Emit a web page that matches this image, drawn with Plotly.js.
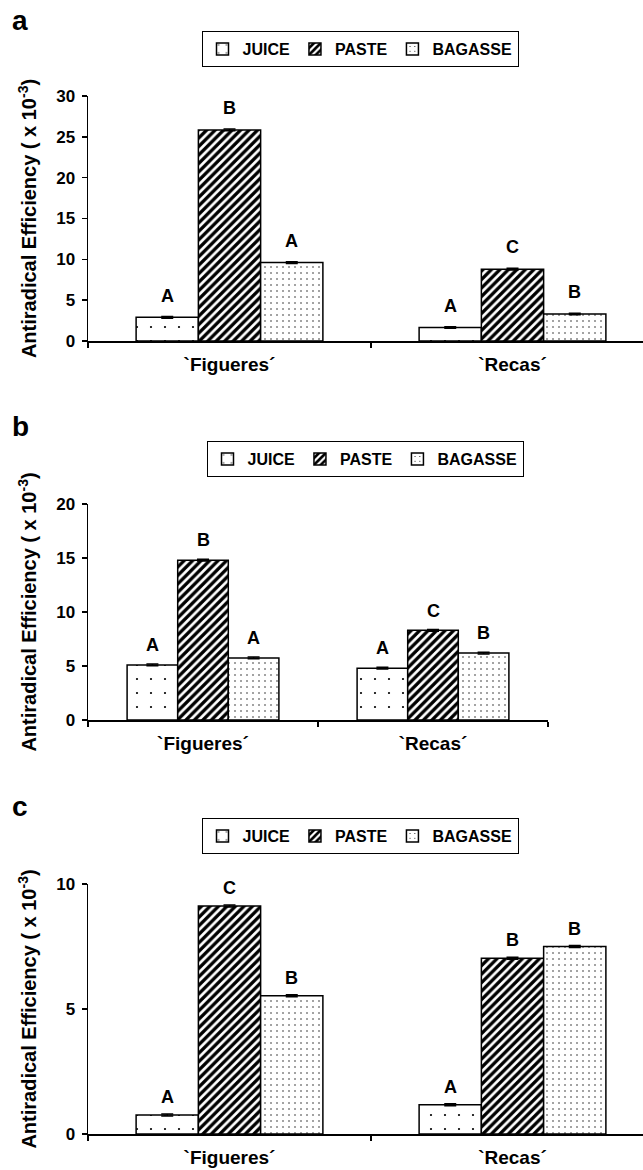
<!DOCTYPE html>
<html>
<head>
<meta charset="utf-8">
<script src="https://cdn.plot.ly/plotly-3.0.1.min.js"></script>
<style>html,body{margin:0;padding:0;background:#fff;}</style>
</head>
<body>
<div id="chart" style="width:643px;height:1170px;"></div>
<script>
// ---- data ----
const categories = ["`Figueres\u00b4", "`Recas\u00b4"];
const seriesNames = ["JUICE", "PASTE", "BAGASSE"];

const aJuice = [2.9, 1.65];
const aPaste = [25.85, 8.8];
const aBagasse = [9.6, 3.3];
const aErr = [0.1, 0.1];
const aLettersJuice = ["A", "A"];
const aLettersPaste = ["B", "C"];
const aLettersBagasse = ["A", "B"];

const bJuice = [5.1, 4.8];
const bPaste = [14.8, 8.3];
const bBagasse = [5.75, 6.2];
const bErr = [0.08, 0.08];
const bLettersJuice = ["A", "A"];
const bLettersPaste = ["B", "C"];
const bLettersBagasse = ["A", "B"];

const cJuice = [0.76, 1.17];
const cPaste = [9.12, 7.03];
const cBagasse = [5.53, 7.5];
const cErr = [0.04, 0.04];
const cLettersJuice = ["A", "A"];
const cLettersPaste = ["C", "B"];
const cLettersBagasse = ["B", "B"];

const yTickVals = [0, 5, 10, 15, 20, 25, 30];
const panelLabels = ["a", "b", "c"];

// ---- styling ----
const FONT = '"Liberation Sans", Arial, Helvetica, sans-serif';
const bargap = 0.34;
const patterns = [
  {shape: ".", size: 14, solidity: 0.02, fgcolor: "#000", bgcolor: "#fff", fillmode: "replace"},
  {shape: "/", size: 6, solidity: 0.55, fgcolor: "#000", bgcolor: "#fff", fillmode: "replace"},
  {shape: ".", size: 6, solidity: 0.04, fgcolor: "#000", bgcolor: "#fff", fillmode: "replace"}
];

const panels = [
  {vals: [aJuice, aPaste, aBagasse], err: aErr, letters: [aLettersJuice, aLettersPaste, aLettersBagasse], ax: "", legend: "legend", ymax: 30, yshift: 9},
  {vals: [bJuice, bPaste, bBagasse], err: bErr, letters: [bLettersJuice, bLettersPaste, bLettersBagasse], ax: "2", legend: "legend2", ymax: 20, yshift: 7},
  {vals: [cJuice, cPaste, cBagasse], err: cErr, letters: [cLettersJuice, cLettersPaste, cLettersBagasse], ax: "3", legend: "legend3", ymax: 10, yshift: 5}
];

const W = 643, H = 1170, ML = 88;
const PW = W - ML;
// plot area pixel boxes [top,bottom,left,right]
const boxes = [
  {top: 96, bottom: 341, right: 643, cat: 283},
  {top: 504, bottom: 720, right: 548, cat: 230},
  {top: 884, bottom: 1134, right: 643, cat: 283}
];
const legendTops = [31, 441, 818];
const legendCenters = [360, 365, 360];
const labelBaselines = [32, 438, 818];

const traces = [];
const annotations = [];
const layout = {
  width: W, height: H,
  margin: {l: ML, r: 0, t: 0, b: 0},
  paper_bgcolor: "#fff", plot_bgcolor: "#fff",
  font: {family: FONT, color: "#000", weight: "bold"},
  barmode: "group", bargap: bargap, bargroupgap: 0,
  showlegend: true,
  annotations: annotations
};

const w = (1 - bargap) / 3;

panels.forEach((p, pi) => {
  const xa = "x" + p.ax, ya = "y" + p.ax;
  const b = boxes[pi];
  p.vals.forEach((v, si) => {
    traces.push({
      type: "bar",
      name: seriesNames[si],
      x: categories,
      y: v,
      xaxis: xa, yaxis: ya,
      legend: p.legend,
      marker: {color: "#fff", line: {color: "#000", width: 1.5}, pattern: patterns[si]},
      error_y: {type: "data", array: p.err, visible: true, color: "#000", thickness: 1.5, width: 6}
    });
    v.forEach((val, ci) => {
      annotations.push({
        xref: xa, yref: ya,
        x: ci + (si - 1) * w,
        y: val + p.err[ci],
        text: p.letters[si][ci],
        showarrow: false,
        yanchor: "bottom",
        yshift: p.yshift,
        font: {family: FONT, size: 18, weight: "bold", color: "#000"}
      });
    });
  });

  const xKey = "xaxis" + p.ax, yKey = "yaxis" + p.ax;
  const xr = -0.5 + (b.right - ML) / b.cat;
  layout[xKey] = {
    type: "category",
    domain: [0, (b.right - ML) / PW],
    anchor: ya,
    range: [-0.5, xr],
    showline: true, linecolor: "#000", linewidth: 1.5,
    ticks: "outside", tickson: "boundaries", ticklen: 5, tickcolor: "#000", tickwidth: 1.5,
    ticklabelstandoff: 6,
    tickfont: {family: FONT, size: 19, weight: "bold", color: "#000"},
    showgrid: false, zeroline: false, fixedrange: true
  };
  layout[yKey] = {
    domain: [1 - b.bottom / H, 1 - b.top / H],
    anchor: xa,
    range: [0, p.ymax],
    tickvals: yTickVals.filter(t => t <= p.ymax),
    showline: true, linecolor: "#000", linewidth: 1.5,
    ticks: "outside", ticklen: 5, tickcolor: "#000", tickwidth: 1.5,
    ticklabelstandoff: 3,
    tickfont: {family: FONT, size: 17, weight: "bold", color: "#000"},
    showgrid: false, zeroline: false, fixedrange: true,
    title: {text: "Antiradical Efficiency ( x 10<sup>-3</sup>)", font: {family: FONT, size: 20, weight: "bold", color: "#000"}, standoff: 14}
  };
  layout[p.legend] = {
    orientation: "h",
    x: (legendCenters[pi] - ML) / PW, xanchor: "center",
    y: 1 - legendTops[pi] / H, yanchor: "top",
    bordercolor: "#000", borderwidth: 1, bgcolor: "#fff",
    font: {family: FONT, size: 16, weight: "bold", color: "#000"},
    itemwidth: 30, traceorder: "normal"
  };
  annotations.push({
    xref: "paper", yref: "paper",
    x: (20 - ML) / PW, y: 1 - (labelBaselines[pi] + 6) / H,
    xanchor: "center", yanchor: "bottom",
    text: panelLabels[pi], showarrow: false,
    font: {family: FONT, size: 28, weight: "bold", color: "#000"}
  });
});

Plotly.newPlot("chart", traces, layout, {displayModeBar: false, staticPlot: true});
</script>
</body>
</html>
